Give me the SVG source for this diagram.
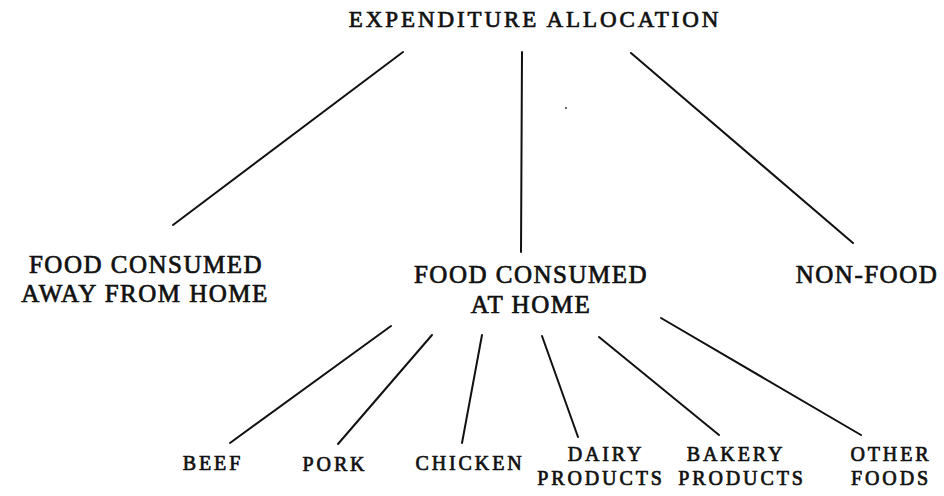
<svg xmlns="http://www.w3.org/2000/svg" width="944" height="496" viewBox="0 0 944 496">
<style>
  text { font-family: "Liberation Serif", "Times New Roman", serif; fill: #111; stroke: #111; stroke-width: 0.7; text-anchor: middle; }
  .t { font-size: 23px; letter-spacing: 2.9px; }
  .m { font-size: 25px; letter-spacing: 1.5px; }
  .s { font-size: 20px; letter-spacing: 2.9px; }
  .c line { stroke: #111; stroke-width: 2; stroke-linecap: round; }
</style>
<rect width="944" height="496" fill="#fff"/>
<g id="connectors" class="c">
  <line x1="403" y1="52" x2="173" y2="225"/>
  <line x1="522" y1="52" x2="521" y2="252"/>
  <line x1="631" y1="53" x2="853" y2="243"/>
  <line x1="391" y1="326" x2="230" y2="443"/>
  <line x1="432" y1="335" x2="338" y2="444"/>
  <line x1="482" y1="335" x2="462" y2="443"/>
  <line x1="542" y1="336" x2="578" y2="437"/>
  <line x1="599" y1="337" x2="719" y2="435"/>
  <line x1="661" y1="318" x2="861" y2="435"/>
</g>
<line x1="565" y1="108" x2="567" y2="108" stroke="#333" stroke-width="1.5"/>
<g id="root"><text class="t" x="535" y="27">EXPENDITURE ALLOCATION</text></g>
<g id="away"><text class="m" x="146" y="273">FOOD CONSUMED</text><text class="m" x="145" y="302">AWAY FROM HOME</text></g>
<g id="home"><text class="m" x="531" y="283">FOOD CONSUMED</text><text class="m" x="531" y="313">AT HOME</text></g>
<g id="nonfood"><text class="m" x="867" y="283">NON-FOOD</text></g>
<g id="beef"><text class="s" x="213" y="470">BEEF</text></g>
<g id="pork"><text class="s" x="335" y="471">PORK</text></g>
<g id="chicken"><text class="s" x="470" y="470">CHICKEN</text></g>
<g id="dairy"><text class="s" x="606" y="461">DAIRY</text><text class="s" x="601" y="485">PRODUCTS</text></g>
<g id="bakery"><text class="s" x="736" y="461">BAKERY</text><text class="s" x="742" y="485">PRODUCTS</text></g>
<g id="other"><text class="s" x="891" y="461">OTHER</text><text class="s" x="891" y="485">FOODS</text></g>
</svg>
